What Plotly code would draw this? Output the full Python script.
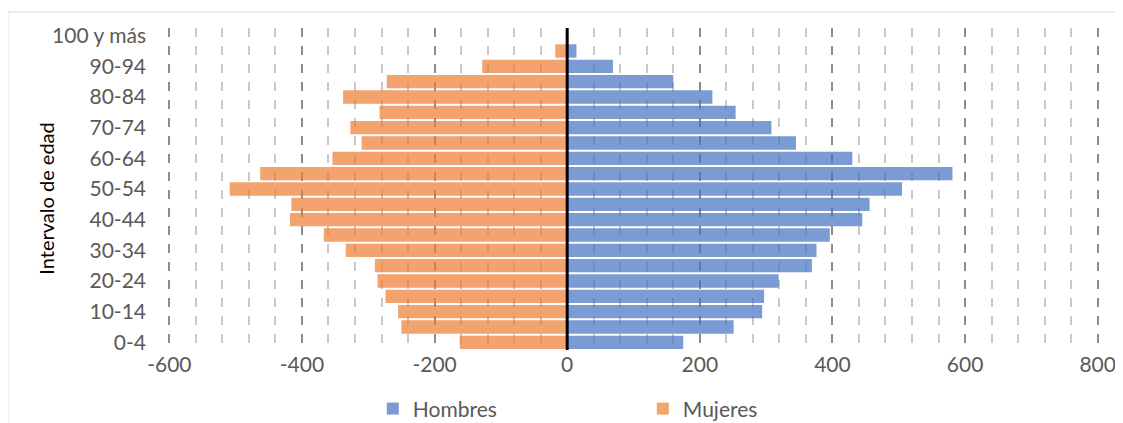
import plotly.graph_objects as go

# age groups, bottom to top
age_groups = ['0-4', '5-9', '10-14', '15-19', '20-24', '25-29', '30-34', '35-39',
              '40-44', '45-49', '50-54', '55-59', '60-64', '65-69', '70-74',
              '75-79', '80-84', '85-89', '90-94', '95-99', '100 y más']
hombres = [175, 251, 294, 297, 319, 369, 376, 396, 445, 456, 505, 581,
           430, 345, 308, 254, 219, 160, 69, 14, 0]
mujeres = [-162, -250, -255, -274, -286, -290, -334, -367, -418, -416, -509, -463,
           -354, -310, -327, -283, -338, -272, -128, -18, 0]
x_ticks = [-600, -400, -200, 0, 200, 400, 600, 800]

font_family = 'Lato, Open Sans, sans-serif'
grey_text = '#595959'

fig = go.Figure()
fig.add_trace(go.Bar(y=age_groups, x=hombres, orientation='h', name='Hombres',
                     marker=dict(color='#4472C4', line=dict(width=0)), opacity=0.7))
fig.add_trace(go.Bar(y=age_groups, x=mujeres, orientation='h', name='Mujeres',
                     marker=dict(color='#ED7D31', line=dict(width=0)), opacity=0.7))

# black vertical line at zero, drawn over the bars
fig.add_shape(type='line', xref='x', yref='paper', x0=0, x1=0, y0=0, y1=1,
              line=dict(color='black', width=3), layer='above')

# light frame around the chart area
fig.add_shape(type='rect', xref='paper', yref='paper', x0=-0.1720, x1=1.1, y0=-0.4, y1=1.0497,
              line=dict(color='#D9D9D9', width=1), layer='below')

fig.add_annotation(text='Intervalo de edad', textangle=-90, xref='paper', yref='paper',
                   x=-0.131, y=0.47, xanchor='center', yanchor='middle', showarrow=False,
                   font=dict(family=font_family, size=20, color='black'))

# the page adds an 8px body margin; range padded a little so the end gridlines are drawn
fig.update_layout(
    width=1115, height=415,
    margin=dict(l=160.2, r=23.7, t=20, b=73, autoexpand=False),
    paper_bgcolor='white', plot_bgcolor='white',
    barmode='relative', bargap=0.13,
    font=dict(family=font_family, size=21, color=grey_text),
    xaxis=dict(
        range=[-602, 802], tickvals=x_ticks, ticktext=[str(v) for v in x_ticks],
        showgrid=True, gridcolor='#8C8C8C', gridwidth=1.5, griddash='dash',
        minor=dict(dtick=40, tick0=0, showgrid=True, gridcolor='#C8C8C8',
                   gridwidth=1.5, griddash='dash'),
        zeroline=False, showline=False, ticks='', automargin=False,
        ticklabeloverflow='allow',
        tickfont=dict(size=21, color=grey_text), fixedrange=True,
    ),
    yaxis=dict(
        type='category', categoryorder='array', categoryarray=age_groups,
        tickvals=age_groups[::2], showgrid=False, zeroline=False, showline=False,
        ticks='', ticklabelstandoff=21, automargin=False,
        tickfont=dict(size=21, color=grey_text), fixedrange=True,
    ),
    showlegend=True,
    legend=dict(orientation='h', x=0.22, xanchor='left', y=-0.183, yanchor='middle',
                entrywidth=225, traceorder='normal',
                font=dict(size=21, color=grey_text), itemsizing='constant'),
)

fig.write_html('out.html')
